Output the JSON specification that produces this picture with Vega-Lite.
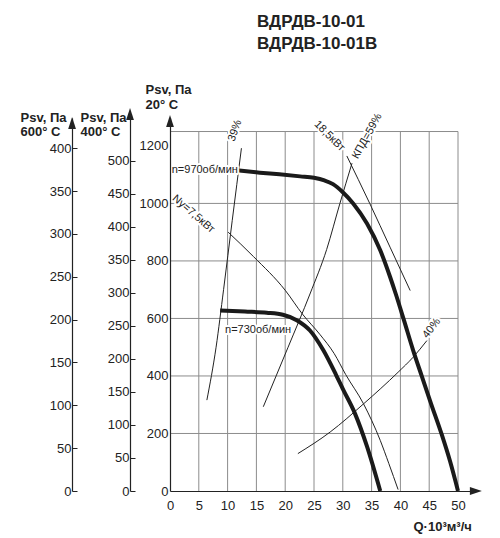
{
  "$schema": "https://vega.github.io/schema/vega-lite/v6.json",
  "width": 306,
  "height": 373,
  "autosize": {"type": "none"},
  "padding": {"left": 170, "top": 118, "right": 24, "bottom": 47},
  "config": {
    "view": {"stroke": null},
    "font": "Liberation Sans",
    "axis": {
      "labelFont": "Liberation Sans",
      "labelFontSize": 13,
      "labelColor": "#222",
      "labelOverlap": false,
      "format": "d",
      "titleFont": "Liberation Sans",
      "titleFontSize": 13,
      "titleFontWeight": "bold",
      "titleColor": "#222",
      "domainColor": "#222",
      "domainWidth": 1.2,
      "tickColor": "#222",
      "grid": false
    }
  },
  "title": {
    "text": ["ВДРДВ-10-01", "\u00a0ВДРДВ-10-01В"],
    "anchor": "start",
    "frame": "group",
    "dx": 87,
    "dy": -26,
    "fontSize": 17,
    "fontWeight": "bold",
    "lineHeight": 22,
    "color": "#222",
    "font": "Liberation Sans"
  },
  "datasets": {
    "gridQ": [
      {"q": 5}, {"q": 10}, {"q": 15}, {"q": 20}, {"q": 25},
      {"q": 30}, {"q": 35}, {"q": 40}, {"q": 45}, {"q": 50}
    ],
    "gridP": [
      {"p": 200}, {"p": 400}, {"p": 600}, {"p": 800}, {"p": 1000}, {"p": 1250}
    ],
    "fan": [
      {"speed": "n970", "q": 11.6, "p": 1115},
      {"speed": "n970", "q": 15.6, "p": 1107},
      {"speed": "n970", "q": 19, "p": 1101},
      {"speed": "n970", "q": 22.6, "p": 1094},
      {"speed": "n970", "q": 25, "p": 1089},
      {"speed": "n970", "q": 26.8, "p": 1080},
      {"speed": "n970", "q": 28.3, "p": 1067},
      {"speed": "n970", "q": 30, "p": 1039},
      {"speed": "n970", "q": 31.8, "p": 1000},
      {"speed": "n970", "q": 34.2, "p": 930},
      {"speed": "n970", "q": 36.5, "p": 837},
      {"speed": "n970", "q": 38.2, "p": 745},
      {"speed": "n970", "q": 39.2, "p": 685},
      {"speed": "n970", "q": 40.6, "p": 595},
      {"speed": "n970", "q": 42.2, "p": 490},
      {"speed": "n970", "q": 43.7, "p": 400},
      {"speed": "n970", "q": 45.3, "p": 305},
      {"speed": "n970", "q": 47.2, "p": 195},
      {"speed": "n970", "q": 48.6, "p": 105},
      {"speed": "n970", "q": 50, "p": 0},
      {"speed": "n730", "q": 8.7, "p": 628},
      {"speed": "n730", "q": 13, "p": 624},
      {"speed": "n730", "q": 16.8, "p": 620},
      {"speed": "n730", "q": 19.6, "p": 613},
      {"speed": "n730", "q": 22, "p": 594},
      {"speed": "n730", "q": 24.3, "p": 558},
      {"speed": "n730", "q": 26.6, "p": 490},
      {"speed": "n730", "q": 28.8, "p": 405},
      {"speed": "n730", "q": 30, "p": 355},
      {"speed": "n730", "q": 32.1, "p": 270},
      {"speed": "n730", "q": 34.2, "p": 155},
      {"speed": "n730", "q": 36.5, "p": 0}
    ],
    "lines": [
      {"line": "eff39", "q": 6.4, "p": 316},
      {"line": "eff39", "q": 8, "p": 500},
      {"line": "eff39", "q": 9.3, "p": 700},
      {"line": "eff39", "q": 10.8, "p": 940},
      {"line": "eff39", "q": 12.4, "p": 1192},
      {"line": "eff59", "q": 16.2, "p": 293},
      {"line": "eff59", "q": 20.5, "p": 500},
      {"line": "eff59", "q": 24.3, "p": 685},
      {"line": "eff59", "q": 27.2, "p": 840},
      {"line": "eff59", "q": 29.5, "p": 1000},
      {"line": "eff59", "q": 31.6, "p": 1140},
      {"line": "eff40", "q": 22.2, "p": 130},
      {"line": "eff40", "q": 27.8, "p": 205},
      {"line": "eff40", "q": 33.6, "p": 303},
      {"line": "eff40", "q": 39.6, "p": 413},
      {"line": "eff40", "q": 42.2, "p": 465},
      {"line": "eff40", "q": 44.6, "p": 523},
      {"line": "N18.5", "q": 30.7, "p": 1165},
      {"line": "N18.5", "q": 34.7, "p": 999},
      {"line": "N18.5", "q": 38.2, "p": 848},
      {"line": "N18.5", "q": 41.7, "p": 697},
      {"line": "N7.5", "q": 10.1, "p": 900},
      {"line": "N7.5", "q": 14.5, "p": 815},
      {"line": "N7.5", "q": 20, "p": 698},
      {"line": "N7.5", "q": 23, "p": 615},
      {"line": "N7.5", "q": 26, "p": 545},
      {"line": "N7.5", "q": 28.5, "p": 478},
      {"line": "N7.5", "q": 30.5, "p": 405},
      {"line": "N7.5", "q": 33.6, "p": 303},
      {"line": "N7.5", "q": 36.5, "p": 176},
      {"line": "N7.5", "q": 38, "p": 95},
      {"line": "N7.5", "q": 39.6, "p": 5}
    ],
    "labels": [
      {"text": "n=970об/мин", "q": 0.3, "p": 1116},
      {"text": "n=730об/мин", "q": 9.55, "p": 560},
      {"text": "39%", "q": 11.3, "p": 1253},
      {"text": "Ny=7,5кВт", "q": 4.05, "p": 963},
      {"text": "18,5кВт", "q": 27.66, "p": 1234},
      {"text": "КПД=59%", "q": 34.25, "p": 1234},
      {"text": "40%", "q": 45.43, "p": 566}
    ],
    "axisEnd": [{"end": "top"}]
  },
  "layer": [
    {
      "layer": [
        {
          "data": {"name": "gridQ"},
          "mark": {"type": "rule", "color": "#8c8c8c", "strokeWidth": 1},
          "encoding": {
            "x": {
              "field": "q",
              "type": "quantitative",
              "scale": {"domain": [0, 53.125], "nice": false, "zero": false},
              "axis": {
                "title": "Q·10³м³/ч",
                "titleAlign": "left",
                "titleBaseline": "alphabetic",
                "titleX": 243,
                "titleY": 39,
                "values": [0, 5, 10, 15, 20, 25, 30, 35, 40, 45, 50],
                "tickCount": 11,
                "labelOverlap": false,
                "ticks": false,
                "labelPadding": 8,
                "labelFlush": false,
                "zindex": 1
              }
            },
            "y": {"datum": 0},
            "y2": {"datum": 1250}
          }
        },
        {
          "data": {"name": "gridP"},
          "mark": {"type": "rule", "color": "#8c8c8c", "strokeWidth": 1},
          "encoding": {
            "y": {
              "field": "p",
              "type": "quantitative",
              "scale": {"domain": [0, 1297], "nice": false, "zero": false},
              "axis": {
                "title": ["Psv, Па", "20° C"],
                "titleAngle": 0,
                "titleAlign": "left",
                "titleBaseline": "alphabetic",
                "titleX": -25,
                "titleY": -25,
                "titleLineHeight": 15,
                "values": [0, 200, 400, 600, 800, 1000, 1200],
                "labelOverlap": false,
                "ticks": false,
                "labelPadding": 2,
                "zindex": 1
              }
            },
            "x": {"datum": 0},
            "x2": {"datum": 50}
          }
        },
        {
          "data": {"name": "lines"},
          "mark": {"type": "line", "color": "#222", "strokeWidth": 1, "interpolate": "monotone"},
          "encoding": {
            "x": {"field": "q", "type": "quantitative"},
            "y": {"field": "p", "type": "quantitative"},
            "detail": {"field": "line"}
          }
        },
        {
          "data": {"name": "fan"},
          "mark": {"type": "line", "color": "#1a1a1a", "strokeWidth": 4, "interpolate": "monotone"},
          "encoding": {
            "x": {"field": "q", "type": "quantitative"},
            "y": {"field": "p", "type": "quantitative"},
            "detail": {"field": "speed"}
          }
        },
        {
          "data": {"name": "labels"},
          "transform": [{"filter": "datum.text === 'n=970об/мин' || datum.text === 'n=730об/мин'"}],
          "encoding": {
            "x": {"field": "q", "type": "quantitative"},
            "y": {"field": "p", "type": "quantitative"},
            "text": {"field": "text"}
          },
          "layer": [
            {"mark": {"type": "text", "align": "left", "baseline": "middle", "fontSize": 11, "fill": "white", "stroke": "white", "strokeWidth": 4, "strokeJoin": "round"}},
            {"mark": {"type": "text", "align": "left", "baseline": "middle", "fontSize": 11, "fill": "#222"}}
          ]
        },
        {
          "data": {"name": "labels"},
          "transform": [{"filter": "datum.text === '39%'"}],
          "encoding": {
            "x": {"field": "q", "type": "quantitative"},
            "y": {"field": "p", "type": "quantitative"},
            "text": {"field": "text"}
          },
          "layer": [
            {"mark": {"type": "text", "angle": 290, "baseline": "middle", "fontSize": 11, "fill": "white", "stroke": "white", "strokeWidth": 4, "strokeJoin": "round"}},
            {"mark": {"type": "text", "angle": 290, "baseline": "middle", "fontSize": 11, "fill": "#222"}}
          ]
        },
        {
          "data": {"name": "labels"},
          "transform": [{"filter": "datum.text === 'Ny=7,5кВт'"}],
          "encoding": {
            "x": {"field": "q", "type": "quantitative"},
            "y": {"field": "p", "type": "quantitative"},
            "text": {"field": "text"}
          },
          "layer": [
            {"mark": {"type": "text", "angle": 41, "baseline": "middle", "fontSize": 11, "fill": "white", "stroke": "white", "strokeWidth": 4, "strokeJoin": "round"}},
            {"mark": {"type": "text", "angle": 41, "baseline": "middle", "fontSize": 11, "fill": "#222"}}
          ]
        },
        {
          "data": {"name": "labels"},
          "transform": [{"filter": "datum.text === '18,5кВт'"}],
          "encoding": {
            "x": {"field": "q", "type": "quantitative"},
            "y": {"field": "p", "type": "quantitative"},
            "text": {"field": "text"}
          },
          "layer": [
            {"mark": {"type": "text", "angle": 45, "baseline": "middle", "fontSize": 11, "fill": "white", "stroke": "white", "strokeWidth": 4, "strokeJoin": "round"}},
            {"mark": {"type": "text", "angle": 45, "baseline": "middle", "fontSize": 11, "fill": "#222"}}
          ]
        },
        {
          "data": {"name": "labels"},
          "transform": [{"filter": "datum.text === 'КПД=59%'"}],
          "encoding": {
            "x": {"field": "q", "type": "quantitative"},
            "y": {"field": "p", "type": "quantitative"},
            "text": {"field": "text"}
          },
          "layer": [
            {"mark": {"type": "text", "angle": 299, "baseline": "middle", "fontSize": 11, "fill": "white", "stroke": "white", "strokeWidth": 4, "strokeJoin": "round"}},
            {"mark": {"type": "text", "angle": 299, "baseline": "middle", "fontSize": 11, "fill": "#222"}}
          ]
        },
        {
          "data": {"name": "labels"},
          "transform": [{"filter": "datum.text === '40%'"}],
          "encoding": {
            "x": {"field": "q", "type": "quantitative"},
            "y": {"field": "p", "type": "quantitative"},
            "text": {"field": "text"}
          },
          "layer": [
            {"mark": {"type": "text", "angle": 308, "baseline": "middle", "fontSize": 11, "fill": "white", "stroke": "white", "strokeWidth": 4, "strokeJoin": "round"}},
            {"mark": {"type": "text", "angle": 308, "baseline": "middle", "fontSize": 11, "fill": "#222"}}
          ]
        },
        {
          "data": {"name": "axisEnd"},
          "mark": {"type": "point", "shape": "M0,-1L0.65,1L-0.65,1Z", "size": 144, "filled": true, "color": "#222", "opacity": 1, "clip": false},
          "encoding": {
            "x": {"datum": 0},
            "y": {"datum": 1287}
          }
        },
        {
          "data": {"name": "axisEnd"},
          "mark": {"type": "point", "shape": "M1,0L-1,-0.65L-1,0.65Z", "size": 144, "filled": true, "color": "#222", "opacity": 1, "clip": false},
          "encoding": {
            "x": {"datum": 53.1},
            "y": {"datum": 0}
          }
        }
      ]
    },
    {
      "data": {"name": "axisEnd"},
      "mark": {"type": "point", "shape": "M0,-1L0.65,1L-0.65,1Z", "size": 144, "filled": true, "color": "#222", "opacity": 1, "clip": false},
      "encoding": {
        "x": {"datum": -6.94},
        "y": {
          "datum": 570.8,
          "scale": {"domain": [0, 564.7], "nice": false, "zero": false},
          "axis": {
            "orient": "left",
            "offset": 40,
            "title": ["Psv, Па", "400° C"],
            "titleAngle": 0,
            "titleAlign": "left",
            "titleBaseline": "alphabetic",
            "titleX": -50,
            "titleY": 3,
            "titleLineHeight": 14,
            "values": [0, 50, 100, 150, 200, 250, 300, 350, 400, 450, 500],
            "labelOverlap": false,
            "tickSize": -5,
            "labelPadding": 6
          }
        }
      }
    },
    {
      "data": {"name": "axisEnd"},
      "mark": {"type": "point", "shape": "M0,-1L0.65,1L-0.65,1Z", "size": 144, "filled": true, "color": "#222", "opacity": 1, "clip": false},
      "encoding": {
        "x": {"datum": -17.0},
        "y": {
          "datum": 429.5,
          "scale": {"domain": [0, 435.3], "nice": false, "zero": false},
          "axis": {
            "orient": "left",
            "offset": 98,
            "title": ["Psv, Па", "600° C"],
            "titleAngle": 0,
            "titleAlign": "left",
            "titleBaseline": "alphabetic",
            "titleX": -52,
            "titleY": 3,
            "titleLineHeight": 14,
            "values": [0, 50, 100, 150, 200, 250, 300, 350, 400],
            "labelOverlap": false,
            "tickSize": -5,
            "labelPadding": 6
          }
        }
      }
    }
  ],
  "resolve": {"scale": {"y": "independent"}, "axis": {"y": "independent"}}
}
